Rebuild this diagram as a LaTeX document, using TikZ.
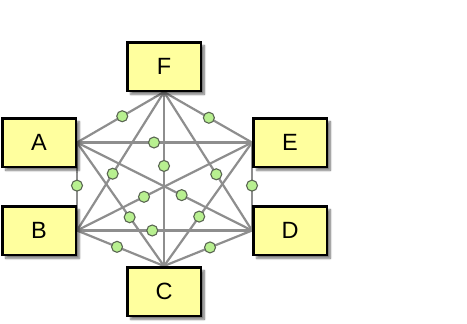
\documentclass[tikz,border=0pt]{standalone}
\usepackage{fontspec}
\setmainfont{Liberation Sans}
\usetikzlibrary{shadows.blur}
\definecolor{boxfill}{HTML}{FFFF9E}
\definecolor{dotfill}{HTML}{B8F090}
\definecolor{dotline}{HTML}{5A6652}
\definecolor{edgecol}{HTML}{8E8E8E}
\pgfdeclarelayer{bg}
\pgfsetlayers{bg,main}
\begin{document}
\begin{tikzpicture}[x=1pt,y=-1pt,
  box/.style={draw=black, line width=2.5pt, fill=boxfill, minimum width=73.5pt, minimum height=48.5pt, inner sep=0pt,
    font=\fontsize{23.5}{23.5}\selectfont,
    blur shadow={shadow xshift=3.5pt, shadow yshift=-3.5pt, shadow blur radius=2pt, shadow blur steps=6, shadow opacity=55}},
  edge/.style={draw=edgecol, line width=2.2pt},
  dot/.style={circle, fill=dotfill, draw=dotline, line width=1.1pt, minimum size=11pt, inner sep=0pt}]
\useasboundingbox (0,0) rectangle (467,324);
\node[box] (F) at (164,66.5) {F};
\node[box] (A) at (39,142.5) {A};
\node[box] (E) at (290,142.5) {E};
\node[box] (B) at (39,230.5) {B};
\node[box] (D) at (290,230.5) {D};
\node[box] (C) at (164,291.5) {C};
\begin{pgfonlayer}{bg}
\draw[edge] (A.east) -- (F.south);
\draw[edge] (F.south) -- (E.west);
\draw[edge] (A.east) -- (E.west);
\draw[edge] (F.south) -- (C.north);
\draw[edge] (F.south) -- (B.east);
\draw[edge] (F.south) -- (D.west);
\draw[edge] (A.east) -- (B.east);
\draw[edge] (E.west) -- (D.west);
\draw[edge] (B.east) -- (E.west);
\draw[edge] (A.east) -- (D.west);
\draw[edge] (A.east) -- (C.north);
\draw[edge] (E.west) -- (C.north);
\draw[edge] (B.east) -- (D.west);
\draw[edge] (B.east) -- (C.north);
\draw[edge] (D.west) -- (C.north);
\end{pgfonlayer}
\path (A.east) -- (F.south) node[dot,pos=0.52] (dAF) {};
\path (F.south) -- (E.west) node[dot,pos=0.51] (dFE) {};
\path (A.east) -- (E.west) node[dot,pos=0.44] (dAE) {};
\path (F.south) -- (C.north) node[dot,pos=0.425] (dFC) {};
\path (F.south) -- (B.east) node[dot,pos=0.59] (dFB) {};
\path (F.south) -- (D.west) node[dot,pos=0.594] (dFD) {};
\path (A.east) -- (B.east) node[dot,pos=0.49] (dAB) {};
\path (E.west) -- (D.west) node[dot,pos=0.49] (dED) {};
\path (B.east) -- (E.west) node[dot,pos=0.383] (dBE) {};
\path (A.east) -- (D.west) node[dot,pos=0.598] (dAD) {};
\path (A.east) -- (C.north) node[dot,pos=0.605] (dAC) {};
\path (E.west) -- (C.north) node[dot,pos=0.60] (dEC) {};
\path (B.east) -- (D.west) node[dot,pos=0.43] (dBD) {};
\path (B.east) -- (C.north) node[dot,pos=0.46] (dBC) {};
\path (D.west) -- (C.north) node[dot,pos=0.477] (dDC) {};
\end{tikzpicture}
\end{document}
